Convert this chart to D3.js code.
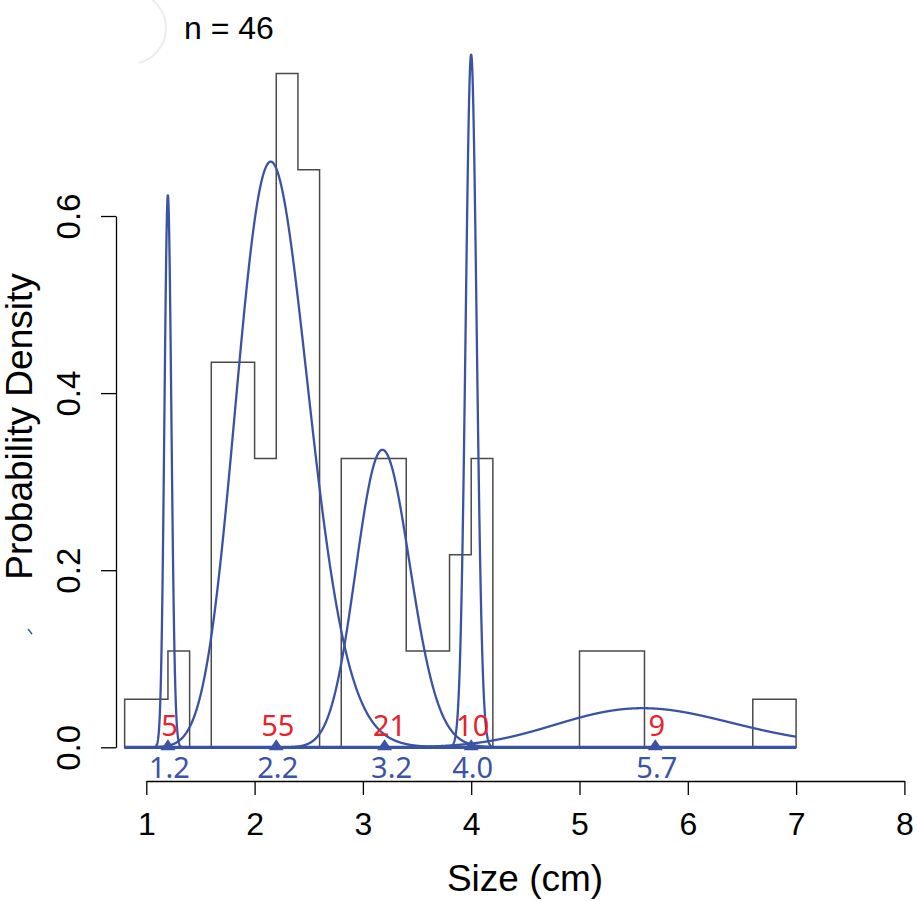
<!DOCTYPE html>
<html>
<head>
<meta charset="utf-8">
<script src="https://cdn.jsdelivr.net/npm/d3@7"></script>
<style>
  html, body { margin: 0; padding: 0; background: #fff; }
  svg { display: block; }
  .axis text { font-family: "Liberation Sans", Arial, sans-serif; fill: #000; }
  .axis path, .axis line { stroke: #000; stroke-width: 1.3; }
</style>
</head>
<body>
<svg id="chart"></svg>
<script>
// histogram: bin breaks (cm) and counts per bin
var breaks = [0.8, 1.2, 1.4, 1.6, 2.0, 2.2, 2.4, 2.6, 2.8, 3.4, 3.8, 4.0, 4.2, 5.0, 5.6, 6.6, 7.0];
var counts = [1, 1, 0, 8, 3, 7, 6, 0, 9, 2, 2, 3, 0, 3, 0, 1];

// fitted components (gamma): means, sds (cm), proportions (%)
var compMeans = [1.2, 2.2, 3.2, 4.0, 5.7];
var compSds   = [0.032, 0.335, 0.25, 0.051, 0.82];
var compProps = [5, 55, 21, 10, 9];

var xTicks = [1, 2, 3, 4, 5, 6, 7, 8];
var yTicks = [0, 0.2, 0.4, 0.6];

var width = 917, height = 901;
var blue = "#3a53a4", red = "#e8222b";

var svg = d3.select("#chart")
    .attr("width", width)
    .attr("height", height);

var n = d3.sum(counts);

var x = d3.scaleLinear().domain([1, 8]).range([146.3, 904.4]);
var y = d3.scaleLinear().domain([0, 0.6]).range([747.3, 216]);

// faint arc left over in the top corner
var arcPath = d3.path();
arcPath.arc(130, 28, 36, -Math.PI * 0.36, Math.PI * 0.42);
svg.append("path")
    .attr("d", arcPath.toString())
    .attr("fill", "none")
    .attr("stroke", "#ececec")
    .attr("stroke-width", 2);

// stray mark
svg.append("line")
    .attr("x1", 28).attr("y1", 629).attr("x2", 32).attr("y2", 634)
    .attr("stroke", blue).attr("stroke-width", 1.5);

// histogram outline
var steps = [[breaks[0], 0]];
counts.forEach(function(c, i) {
    var d = c / (n * (breaks[i + 1] - breaks[i]));
    steps.push([breaks[i], d], [breaks[i + 1], d]);
});
steps.push([breaks[breaks.length - 1], 0]);

var line = d3.line()
    .x(d => x(d[0]))
    .y(d => y(d[1]));

svg.append("path")
    .attr("d", line(steps) + "Z")
    .attr("fill", "none")
    .attr("stroke", "#4a4a4a")
    .attr("stroke-width", 1.5);

// gamma density
function logGamma(z) {
    var g = 7;
    var c = [0.99999999999980993, 676.5203681218851, -1259.1392167224028,
        771.32342877765313, -176.61502916214059, 12.507343278686905,
        -0.13857109526572012, 9.9843695780195716e-6, 1.5056327351493116e-7];
    z -= 1;
    var a = c[0], t = z + g + 0.5;
    for (var i = 1; i < g + 2; i++) a += c[i] / (z + i);
    return 0.5 * Math.log(2 * Math.PI) + (z + 0.5) * Math.log(t) - t + Math.log(a);
}
function gammaPdf(v, mean, sd) {
    var k = mean * mean / (sd * sd), theta = sd * sd / mean;
    return Math.exp((k - 1) * Math.log(v) - v / theta - logGamma(k) - k * Math.log(theta));
}

var grid = d3.range(breaks[0], breaks[breaks.length - 1] + 1e-9, 0.002);

// overlapping tails make a heavy baseline
svg.append("line")
    .attr("x1", x(breaks[0])).attr("x2", x(breaks[breaks.length - 1]))
    .attr("y1", y(0)).attr("y2", y(0))
    .attr("stroke", blue).attr("stroke-width", 3.2);

compMeans.forEach(function(m, i) {
    var pts = grid.map(v => [v, compProps[i] / 100 * gammaPdf(v, m, compSds[i])]);
    svg.append("path")
        .attr("d", line(pts))
        .attr("fill", "none")
        .attr("stroke", blue)
        .attr("stroke-width", 2.3)
        .attr("stroke-linejoin", "round");
});

// mean markers
svg.selectAll(".tri")
    .data(compMeans)
    .enter()
    .append("path")
        .classed("tri", true)
        .attr("d", d => {
            var cx = x(d), b = y(0);
            return "M" + (cx - 7.5) + "," + (b + 3) + "L" + (cx + 7.5) + "," + (b + 3) +
                   "L" + cx + "," + (b - 8) + "Z";
        })
        .attr("fill", blue);

svg.selectAll(".pct")
    .data(compProps)
    .enter()
    .append("text")
        .classed("pct", true)
        .attr("x", (d, i) => x(compMeans[i]) + (i == 2 ? 5 : 1.5))
        .attr("y", 735.5)
        .attr("text-anchor", "middle")
        .attr("font-family", "'Noto Sans', 'Open Sans', sans-serif")
        .attr("font-size", 29)
        .attr("fill", red)
        .text(d => d);

svg.selectAll(".mu")
    .data(compMeans)
    .enter()
    .append("text")
        .classed("mu", true)
        .attr("x", (d, i) => x(d) + (i == 2 ? 7 : 1.5))
        .attr("y", 778)
        .attr("text-anchor", "middle")
        .attr("font-family", "'Noto Sans', 'Open Sans', sans-serif")
        .attr("font-size", 29)
        .attr("fill", blue)
        .text(d => d3.format(".1f")(d));

// axes
var xAxis = svg.append("g")
    .classed("axis", true)
    .attr("transform", "translate(0,781)")
    .call(d3.axisBottom(x).tickValues(xTicks).tickSize(14).tickSizeOuter(0).tickPadding(17)
        .tickFormat(d3.format("d")));
xAxis.selectAll("text").attr("font-size", 32);

var yAxis = svg.append("g")
    .classed("axis", true)
    .attr("transform", "translate(116,0)")
    .call(d3.axisLeft(y).tickValues(yTicks).tickSize(15).tickSizeOuter(0)
        .tickFormat(d3.format(".1f")));
yAxis.selectAll("text")
    .attr("font-size", 33)
    .attr("x", null).attr("dy", null)
    .attr("text-anchor", "middle")
    .attr("transform", "translate(-36,0) rotate(-90)");

svg.append("text")
    .attr("x", 525)
    .attr("y", 891)
    .attr("text-anchor", "middle")
    .attr("font-family", "'Liberation Sans', Arial, sans-serif")
    .attr("font-size", 37)
    .text("Size (cm)");

svg.append("text")
    .attr("transform", "translate(32,426.5) rotate(-90)")
    .attr("text-anchor", "middle")
    .attr("font-family", "'Liberation Sans', Arial, sans-serif")
    .attr("font-size", 37)
    .text("Probability Density");

svg.append("text")
    .attr("x", 184)
    .attr("y", 39)
    .attr("font-family", "'Liberation Sans', Arial, sans-serif")
    .attr("font-size", 32)
    .text("n = " + n);
</script>
</body>
</html>
